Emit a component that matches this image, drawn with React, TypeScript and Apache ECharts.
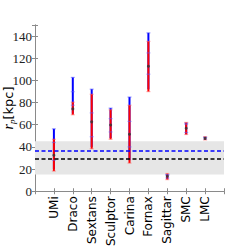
import React, { useEffect, useRef } from 'react';
import * as echarts from 'echarts';

const categories = ['UMi', 'Draco', 'Sextans', 'Sculptor', 'Carina', 'Fornax', 'Sagittar', 'SMC', 'LMC'];
const bestFit = [32.5, 74.3, 62.6, 59.8, 51.4, 112.8, 13.5, 56.9, 47.7];
const redLow = [18.2, 69, 38.3, 46.9, 25.4, 89.9, 10.5, 51.2, 46.3];
const redHigh = [46.9, 80.4, 87.5, 73.5, 77.6, 135.2, 16, 62.1, 49.2];
const blueOuterLow = [20, 70, 40, 48, 28, 92, 11, 51.5, 46.5];
const blueOuterHigh = [56.3, 102.7, 92.1, 75, 85, 142.9, 15, 61.5, 48.8];
const blueInnerLow = [28, 77.6, 49.2, 53.5, 40, 105.6, 12, 53, 47];
const blueInnerHigh = [44, 89.8, 70.7, 65.5, 63, 124.8, 14.5, 60.5, 48.5];
const bandRange = [15, 45];
const blueRef = 36.8;
const blackRef = 29.7;
const yTicks = { min: 0, max: 150, interval: 20 };

const axisGray = '#8a8a8a';

export default function App() {
  const ref = useRef<HTMLDivElement>(null);
  useEffect(() => {
    const chart = echarts.init(ref.current!, null, { renderer: 'svg' });
    const option: any = {
      animation: false,
      grid: { left: 35, right: 25, top: 25, bottom: 49.5 },
      graphic: [
        {
          type: 'text', x: 8, y: 108, rotation: Math.PI / 2,
          style: {
            text: '{r|r}{p|p}{k|[kpc]}',
            align: 'center', verticalAlign: 'middle',
            rich: {
              r: { fontFamily: 'Liberation Serif', fontStyle: 'italic', fontSize: 14, fill: '#000' },
              p: { fontFamily: 'Liberation Serif', fontStyle: 'italic', fontSize: 9, fill: '#000', verticalAlign: 'bottom', padding: [7, 0, 0, 0] },
              k: { fontFamily: 'DejaVu Sans', fontSize: 13, fill: '#000' },
            },
          },
        },
      ],
      xAxis: [
        {
          type: 'value', min: 0, max: categories.length + 1, interval: 1,
          axisLine: { show: true, lineStyle: { color: axisGray, width: 1 } },
          axisTick: { show: true, inside: true, length: 3, lineStyle: { color: axisGray } },
          splitLine: { show: false },
          axisLabel: {
            rotate: 90, margin: 5, color: '#000', fontFamily: 'DejaVu Sans', fontSize: 12,
            formatter: (v: number) => categories[v - 1] || '',
          },
        },
        {
          type: 'value', position: 'top', min: 0, max: categories.length + 1, interval: 1,
          axisLine: { show: true, lineStyle: { color: axisGray, width: 1 } },
          axisTick: { show: true, inside: true, length: 3, lineStyle: { color: axisGray } },
          splitLine: { show: false }, axisLabel: { show: false },
        },
      ],
      yAxis: [
        {
          type: 'value', min: yTicks.min, max: yTicks.max, interval: yTicks.interval,
          axisLine: { show: true, lineStyle: { color: axisGray, width: 1 } },
          axisTick: { show: true, inside: true, length: 3, lineStyle: { color: axisGray } },
          splitLine: { show: false },
          axisLabel: {
            color: '#222', fontFamily: 'Liberation Serif', fontSize: 13, margin: 3,
            formatter: (v: number) => (v > 140 ? '' : String(v)),
          },
        },
        {
          type: 'value', position: 'right', min: yTicks.min, max: yTicks.max, interval: yTicks.interval,
          axisLine: { show: true, lineStyle: { color: axisGray, width: 1 } },
          axisTick: { show: true, inside: true, length: 3, lineStyle: { color: axisGray } },
          splitLine: { show: false }, axisLabel: { show: false },
        },
      ],
      series: [
        {
          type: 'line', data: [], xAxisIndex: 0, yAxisIndex: 0,
          markArea: {
            silent: true,
            itemStyle: { color: '#e6e6e6' },
            data: [[{ yAxis: bandRange[0] }, { yAxis: bandRange[1] }]],
          },
          markLine: {
            silent: true, symbol: 'none', label: { show: false },
            data: [
              { yAxis: blueRef, lineStyle: { color: '#0000ff', type: [4, 2.5], width: 1.6 } },
              { yAxis: blackRef, lineStyle: { color: '#000000', type: [4, 2.5], width: 1.6 } },
            ],
          },
        },
        {
          type: 'custom', xAxisIndex: 0, yAxisIndex: 0,
          data: categories.map((_, i) => [i + 1, bestFit[i]]),
          encode: { x: 0, y: 1 },
          renderItem: (params: any, api: any) => {
            const i = params.dataIndex;
            const x = i + 1;
            const seg = (lo: number, hi: number, color: string, w: number) => {
              const p1 = api.coord([x, lo]);
              const p2 = api.coord([x, hi]);
              return { type: 'line', shape: { x1: p1[0], y1: p1[1], x2: p2[0], y2: p2[1] }, style: { stroke: color, lineWidth: w } };
            };
            const cap = (v: number, color: string) => {
              const p = api.coord([x, v]);
              return { type: 'line', shape: { x1: p[0] - 2, y1: p[1], x2: p[0] + 2, y2: p[1] }, style: { stroke: color, lineWidth: 1.2, opacity: 0.5 } };
            };
            return {
              type: 'group',
              children: [
                seg(blueOuterLow[i], blueOuterHigh[i], '#0000ff', 2),
                seg(redLow[i], redHigh[i], '#ff0000', 2),
                cap(blueOuterHigh[i], '#4040ff'),
                cap(blueInnerHigh[i], '#6060ff'),
                cap(blueInnerLow[i], '#6060ff'),
                cap(redHigh[i], '#ff6060'),
                cap(redLow[i], '#ff6060'),
              ],
            };
          },
        },
        {
          type: 'scatter', xAxisIndex: 0, yAxisIndex: 0,
          data: categories.map((_, i) => [i + 1, bestFit[i]]),
          symbol: 'circle', symbolSize: 3,
          itemStyle: { color: '#333' },
        },
      ],
    };
    chart.setOption(option);
    return () => chart.dispose();
  }, []);
  return <div ref={ref} style={{ width: 249, height: 249, position: 'absolute', left: 0, top: 0 }} />;
}
